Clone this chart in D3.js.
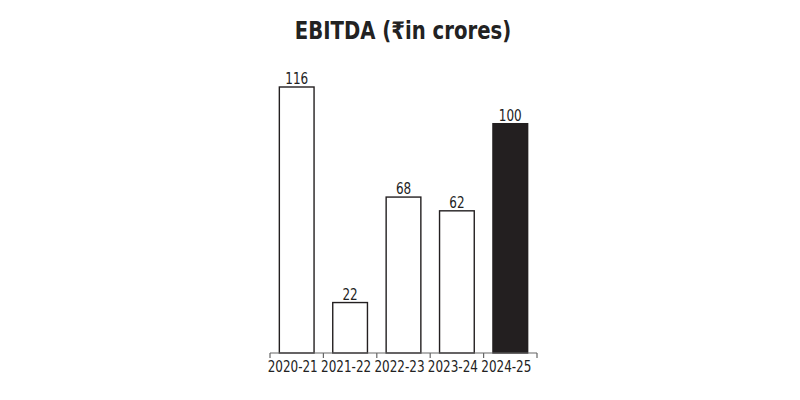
<!DOCTYPE html>
<html>
<head>
<meta charset="utf-8">
<script src="https://cdn.jsdelivr.net/npm/d3@7"></script>
<style>
  body { margin: 0; background: #fff; }
  text { font-family: "DejaVu Sans", sans-serif; fill: #222; }
</style>
</head>
<body>
<svg id="chart" width="800" height="400"></svg>
<script>
var years = ['2020-21', '2021-22', '2022-23', '2023-24', '2024-25'];
var ebitda = [116, 22, 68, 62, 100];
var highlight = [false, false, false, false, true];

var svg = d3.select('#chart'),
    margin = { left: 270, right: 263, top: 87, bottom: 47 },
    width = +svg.attr('width'),
    height = +svg.attr('height'),
    squeeze = 0.75; // fake a condensed face

// Title
svg.append('text')
    .attr('transform', 'translate(403,39) scale(0.82,1)')
    .attr('text-anchor', 'middle')
    .attr('font-size', 24)
    .attr('font-weight', 'bold')
    .text('EBITDA (₹in crores)');

var x = d3.scaleBand()
    .domain(years)
    .range([margin.left, width - margin.right])
    .paddingInner(0.35)
    .paddingOuter(0.175);

var y = d3.scaleLinear()
    .domain([0, 116])
    .range([height - margin.bottom, margin.top]);

var data = years.map(function (d, i) { return { year: d, value: ebitda[i], dark: highlight[i] }; });

// Bars
svg.append('g').selectAll('rect')
    .data(data)
    .enter().append('rect')
    .attr('x', function (d) { return x(d.year); })
    .attr('y', function (d) { return y(d.value); })
    .attr('width', x.bandwidth())
    .attr('height', function (d) { return y(0) - y(d.value); })
    .attr('fill', function (d) { return d.dark ? '#231f20' : '#fff'; })
    .attr('stroke', '#231f20')
    .attr('stroke-width', 1.4);

// Value labels
svg.append('g').selectAll('text')
    .data(data)
    .enter().append('text')
    .attr('transform', function (d) {
        return 'translate(' + (x(d.year) + x.bandwidth() / 2) + ',' + (y(d.value) - 3) + ') scale(' + squeeze + ',1)';
    })
    .attr('text-anchor', 'middle')
    .attr('font-size', 16)
    .text(function (d) { return d.value; });

// X axis: ticks at band edges
var axis = svg.append('g').attr('transform', 'translate(0,' + y(0) + ')');
axis.append('line')
    .attr('x1', margin.left)
    .attr('x2', width - margin.right)
    .attr('stroke', '#666')
    .attr('stroke-width', 1.2);
var edges = years.map(function (d) { return x(d) - x.step() * x.paddingOuter(); });
edges.push(width - margin.right);
axis.selectAll('.tick')
    .data(edges)
    .enter().append('line')
    .attr('class', 'tick')
    .attr('x1', function (d) { return d; })
    .attr('x2', function (d) { return d; })
    .attr('y1', 0)
    .attr('y2', 5)
    .attr('stroke', '#666')
    .attr('stroke-width', 1.2);
axis.selectAll('.lbl')
    .data(years)
    .enter().append('text')
    .attr('class', 'lbl')
    .attr('transform', function (d) {
        return 'translate(' + (x(d) + x.bandwidth() / 2 - 4) + ',19) scale(' + squeeze + ',1)';
    })
    .attr('text-anchor', 'middle')
    .attr('font-size', 16)
    .text(function (d) { return d; });
</script>
</body>
</html>
